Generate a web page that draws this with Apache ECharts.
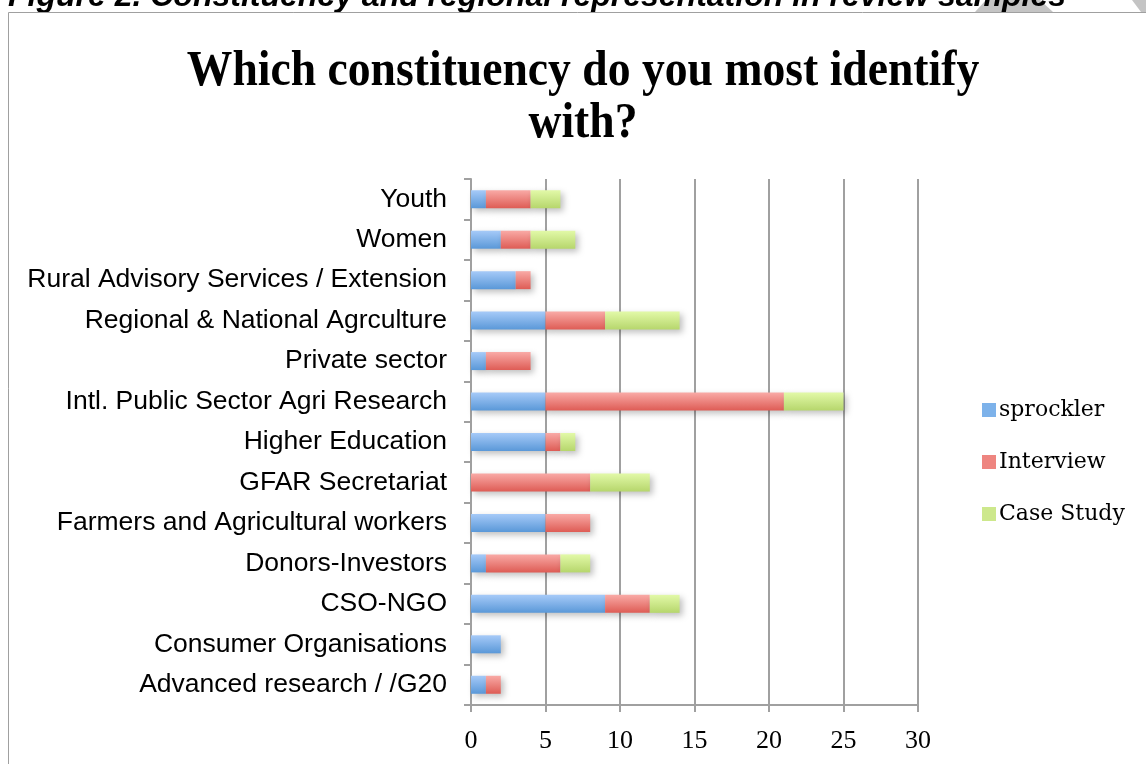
<!DOCTYPE html>
<html>
<head>
<meta charset="utf-8">
<script src="https://cdn.jsdelivr.net/npm/echarts@6/dist/echarts.min.js"></script>
<style>html,body{margin:0;padding:0;background:#fff}#c{width:1146px;height:764px}</style>
</head>
<body>
<div id="c"></div>
<script>
const categories = ["Youth","Women","Rural Advisory Services / Extension","Regional & National Agrculture","Private sector","Intl. Public Sector Agri Research","Higher Education","GFAR Secretariat","Farmers and Agricultural workers","Donors-Investors","CSO-NGO","Consumer Organisations","Advanced research / /G20"];
const sprockler = [1,2,3,5,1,5,5,0,5,1,9,2,1];
const interview = [3,2,1,4,3,16,1,8,3,5,3,0,1];
const caseStudy = [2,3,0,5,0,4,1,4,0,2,2,0,0];
const xTicks = [0,5,10,15,20,25,30];
const seriesNames = ["sprockler","Interview","Case Study"];
const titleText = "Which constituency do you most identify\nwith?";
const captionText = "Figure 2. Constituency and regional representation in review samples";

function grad(a,b){return new echarts.graphic.LinearGradient(0,0,0,1,[{offset:0,color:a},{offset:1,color:b}]);}
const colors = [grad('#a6caf8','#5a98d8'), grad('#f9aaa6','#de5c55'), grad('#e2f9a8','#b6d66c')];
const legendColors = ['#7db2ea','#ee8580','#cde88c'];

const chart = echarts.init(document.getElementById('c'));
const sdata = [sprockler, interview, caseStudy];
chart.setOption({
  animation:false,
  backgroundColor:'#fff',
  graphic:[
    {type:'polygon',z:-1,shape:{points:[[986,0],[1040,0],[1053,12],[975,12]]},style:{fill:'#c4c4c4'}},
    {type:'polygon',z:-1,shape:{points:[[1132,0],[1146,0],[1146,12],[1141,12]]},style:{fill:'#c4c4c4'}},
    {type:'text',x:8,y:-19,style:{text:captionText,font:'italic bold 32px "Liberation Sans", Arial, sans-serif',fill:'#000',verticalAlign:'top'}},
    {type:'rect',shape:{x:8.5,y:12.5,width:1200,height:800},style:{fill:null,stroke:'#a0a0a0',lineWidth:1}},
    {type:'text',x:583,y:46,scaleX:0.895,originX:0,originY:0,style:{text:titleText,font:'bold 51px "Liberation Serif", "Times New Roman", serif',fill:'#000',align:'center',verticalAlign:'top',lineHeight:52}}
  ],
  legend:{
    data:seriesNames.map((n,i)=>({name:n,itemStyle:{color:legendColors[i]}})),
    orient:'vertical',left:977,top:394,itemGap:30,itemWidth:14,itemHeight:14,icon:'rect',
    textStyle:{fontFamily:'"DejaVu Serif", serif',fontSize:22,color:'#000',padding:[0,0,0,-2]}
  },
  grid:{left:471,right:228,top:179,bottom:59,containLabel:false},
  xAxis:{type:'value',min:0,max:30,interval:5,
    axisLine:{show:true,lineStyle:{color:'#a0a0a0',width:2}},
    axisTick:{show:true,length:7,lineStyle:{color:'#a0a0a0',width:2}},
    splitLine:{show:true,lineStyle:{color:'#a0a0a0',width:2}},
    axisLabel:{margin:23,fontFamily:'"Liberation Serif", serif',fontSize:26,color:'#000',
      formatter:v=>xTicks.includes(v)?String(v):''}
  },
  yAxis:{type:'category',data:categories,inverse:true,
    axisLine:{show:true,lineStyle:{color:'#a0a0a0',width:2}},
    axisTick:{show:true,length:7,lineStyle:{color:'#a0a0a0',width:2}},
    axisLabel:{margin:24,fontFamily:'"Liberation Sans", Arial, sans-serif',fontSize:26.5,color:'#000',padding:[6,0,0,0]}
  },
  series:seriesNames.map((n,i)=>({
    name:n,type:'bar',stack:'a',barWidth:18,data:sdata[i],
    itemStyle:{color:colors[i],shadowBlur:6,shadowColor:'rgba(0,0,0,0.25)',shadowOffsetX:3,shadowOffsetY:3}
  }))
});
</script>
</body>
</html>
